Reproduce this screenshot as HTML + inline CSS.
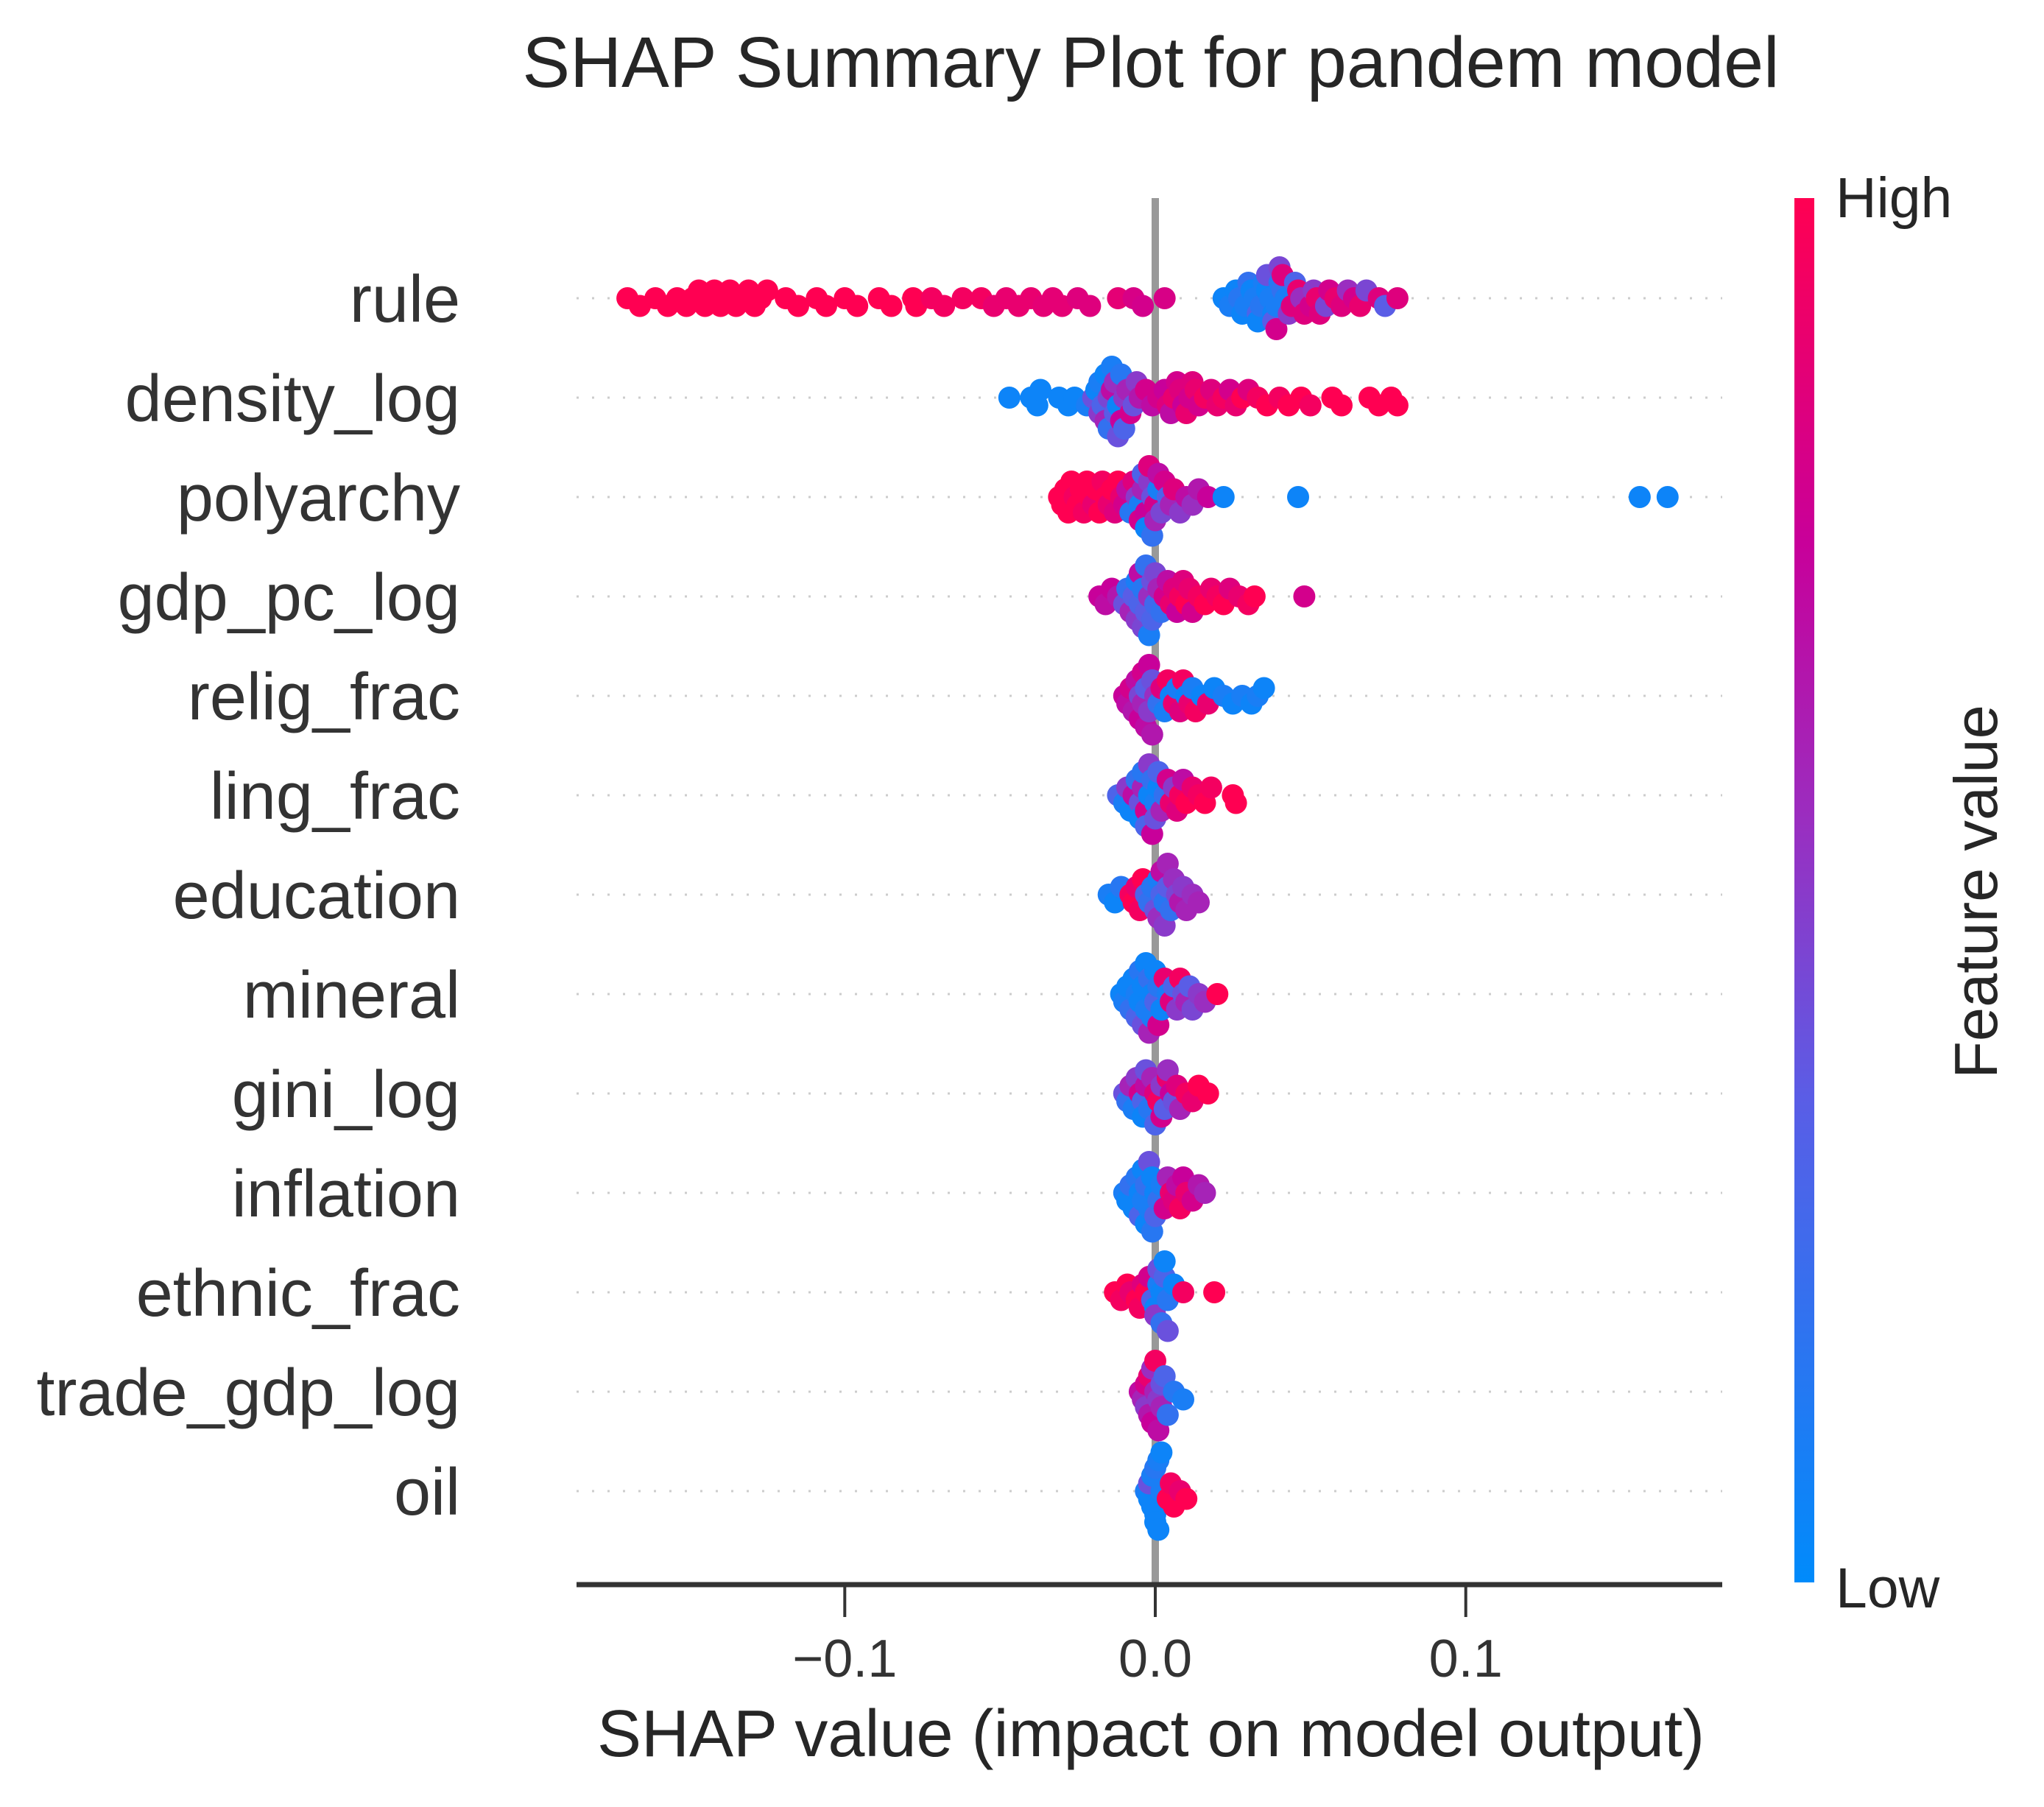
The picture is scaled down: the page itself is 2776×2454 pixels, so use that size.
<!DOCTYPE html>
<html><head><meta charset="utf-8"><style>
html,body{margin:0;padding:0;background:#fff;}
svg{display:block;font-family:"Liberation Sans",Arial,sans-serif;}
</style></head><body>
<svg id="chart" width="2776" height="2454" viewBox="0 0 2776 2454" xmlns="http://www.w3.org/2000/svg">
<defs>
<linearGradient id="cbgrad" x1="0" y1="1" x2="0" y2="0">
<stop offset="0" stop-color="#008bfb"/><stop offset="0.35" stop-color="#5a5de6"/><stop offset="0.55" stop-color="#9a2ec0"/><stop offset="0.75" stop-color="#c8009a"/><stop offset="1" stop-color="#ff0052"/>
</linearGradient>
</defs>
<text x="1563" y="118" font-size="97" text-anchor="middle" fill="#262626">SHAP Summary Plot for pandem model</text>
<g id="grid"></g>
<line x1="1569" y1="269" x2="1569" y2="2152" stroke="#999" stroke-width="10"/>
<g id="dots"></g>
<g id="labels"></g>
<line x1="783" y1="2152" x2="2339" y2="2152" stroke="#333" stroke-width="7"/>
<g id="ticks"></g>
<text x="1563" y="2385" font-size="90" text-anchor="middle" fill="#262626">SHAP value (impact on model output)</text>
<rect x="2437" y="269" width="27" height="1880" fill="url(#cbgrad)"/>
<text x="2493" y="295" font-size="77" fill="#262626">High</text>
<text x="2493" y="2183" font-size="77" fill="#262626">Low</text>
<text x="0" y="0" font-size="83" text-anchor="middle" fill="#262626" transform="translate(2712,1211) rotate(-90)">Feature value</text>
</svg>
<script>
const features = ["rule","density_log","polyarchy","gdp_pc_log","relig_frac","ling_frac","education","mineral","gini_log","inflation","ethnic_frac","trade_gdp_log","oil"];
const xTicks = [-0.1, 0.0, 0.1];
const xTickLabels = ["\u22120.1","0.0","0.1"];

const rule_v = [-0.170,-0.166,-0.161,-0.157,-0.154,-0.151,-0.149,-0.147,-0.145,-0.144,-0.142,-0.140,-0.138,-0.137,-0.135,-0.133,-0.131,-0.129,-0.127,-0.125,-0.119,-0.115,-0.109,-0.106,-0.100,-0.096,-0.089,-0.085,-0.078,-0.077,-0.072,-0.068,-0.062,-0.056,-0.052,-0.048,-0.044,-0.040,-0.036,-0.033,-0.030,-0.025,-0.021,-0.012,-0.007,-0.004,0.003,
0.022,0.024,0.026,0.027,0.028,0.029,0.030,0.031,0.032,0.033,0.033,0.034,0.035,0.036,0.036,0.037,0.038,0.038,0.039,0.039,0.040,0.040,0.041,0.041,0.042,0.043,0.044,0.045,0.046,0.047,0.048,0.050,0.051,0.052,0.053,0.055,0.056,0.058,0.060,0.062,0.064,0.066,0.068,0.072,0.074,0.078];
const rule_c = [1,1,1,1,1,1,1,1,1,1,1,1,1,1,1,1,1,1,1,1,1,1,1,1,1,1,1,1,1,1,.95,.95,.95,.95,.9,.9,.9,.9,.88,.88,.88,.85,.85,.88,.82,.8,.82,
.05,.1,.05,.15,.05,.1,.2,.05,.1,.3,.05,.15,.1,.05,.4,.1,.05,.35,.1,.8,.15,.45,.2,.85,.1,.5,.85,.3,.9,.55,.85,.8,.5,.9,.85,.45,.8,.9,.85,.55,.8,.9,.45,.85,.35,.85];

const density_v = [-0.047,-0.040,-0.038,-0.037,-0.031,-0.028,-0.026,-0.022,-0.020,-0.019,-0.018,-0.018,-0.017,-0.016,-0.016,-0.015,-0.015,-0.014,-0.014,-0.013,-0.013,-0.012,-0.012,-0.011,-0.011,-0.010,-0.010,-0.009,-0.008,-0.007,-0.006,-0.005,-0.003,-0.001,0.001,0.003,0.004,0.005,0.006,0.007,0.008,0.009,0.010,0.011,0.012,0.013,0.014,0.016,0.018,0.020,0.022,0.024,0.026,0.028,0.030,0.033,0.036,0.040,0.043,0.047,0.050,0.057,0.060,0.069,0.072,0.076,0.078];
const density_c = [.05,.05,.05,.05,.05,.05,.05,.1,.4,.05,.5,.1,.3,.6,.05,.45,.2,.7,.1,.35,.55,.05,.4,.75,.15,.5,.3,.6,.8,.4,.5,.65,.8,.7,.8,.75,.85,.7,.9,.8,.85,.75,.9,.8,.85,.9,.8,.95,.85,.9,.95,.8,.9,1,.85,.95,1,.95,1,1,.95,1,1,1,1,1,1];

const polyarchy_v = [-0.031,-0.030,-0.029,-0.028,-0.027,-0.026,-0.025,-0.024,-0.023,-0.022,-0.021,-0.020,-0.019,-0.018,-0.017,-0.016,-0.015,-0.014,-0.013,-0.012,-0.011,-0.010,-0.009,-0.008,-0.007,-0.006,-0.005,-0.005,-0.004,-0.004,-0.003,-0.003,-0.002,-0.002,-0.001,-0.001,0.000,0.000,0.001,0.001,0.002,0.003,0.004,0.005,0.006,0.008,0.010,0.012,0.014,0.017,0.022,0.046,0.156,0.165];
const polyarchy_c = [1,1,1,1,1,.95,1,1,.95,1,1,.9,1,1,.95,1,.9,1,.85,1,.9,.8,.7,.15,.85,.5,.1,.8,.6,.3,.75,.05,.5,.85,.4,.2,.8,.6,.1,.7,.45,.8,.3,.6,.85,.5,.7,.55,.65,.75,.05,.05,.05,.05];

const gdp_v = [-0.018,-0.016,-0.014,-0.012,-0.010,-0.009,-0.008,-0.007,-0.006,-0.006,-0.005,-0.005,-0.004,-0.004,-0.003,-0.003,-0.002,-0.002,-0.001,-0.001,0.000,0.000,0.001,0.002,0.003,0.004,0.005,0.006,0.007,0.008,0.009,0.010,0.011,0.012,0.014,0.016,0.018,0.020,0.022,0.024,0.027,0.030,0.032,0.048];
const gdp_c = [.75,.7,.75,.65,.4,.2,.6,.35,.1,.5,.3,.7,.15,.45,.35,.2,.55,.1,.4,.3,.25,.45,.6,.2,.8,.7,.9,.85,.75,.95,.85,1,.9,.8,.95,1,.9,.95,1,.85,.9,.95,1,.8];

const relig_v = [-0.010,-0.009,-0.008,-0.007,-0.006,-0.005,-0.005,-0.004,-0.004,-0.003,-0.003,-0.002,-0.002,-0.001,-0.001,0.000,0.001,0.002,0.003,0.004,0.005,0.006,0.007,0.008,0.009,0.010,0.011,0.012,0.013,0.015,0.017,0.019,0.022,0.025,0.028,0.031,0.033,0.035];
const relig_c = [.75,.7,.8,.65,.7,.45,.75,.6,.8,.35,.7,.5,.75,.4,.65,.55,.2,.85,.1,.95,.05,.9,.1,.85,.95,.05,.9,.1,.95,.05,.9,.05,.1,.05,.1,.05,.1,.05];

const ling_v = [-0.012,-0.010,-0.009,-0.008,-0.007,-0.006,-0.005,-0.005,-0.004,-0.004,-0.003,-0.003,-0.002,-0.002,-0.001,-0.001,0.000,0.000,0.001,0.001,0.002,0.003,0.004,0.005,0.006,0.007,0.008,0.009,0.010,0.012,0.014,0.016,0.018,0.025,0.026];
const ling_c = [.3,.1,.5,.05,.7,.2,.4,.05,.6,.15,.8,.3,.05,.5,.2,.75,.1,.4,.05,.3,.6,.2,.8,.9,.5,.85,.95,.7,1,.9,.95,1,.95,1,1];

const education_v = [-0.015,-0.013,-0.011,-0.008,-0.007,-0.006,-0.005,-0.004,-0.003,-0.002,-0.001,0.000,0.001,0.001,0.002,0.002,0.003,0.003,0.004,0.004,0.005,0.006,0.007,0.008,0.009,0.010,0.012,0.014];
const education_c = [.1,.05,.15,.95,1,.9,.95,1,.3,.2,.15,.4,.1,.55,.3,.7,.15,.5,.35,.6,.2,.55,.45,.65,.5,.6,.55,.6];

const mineral_v = [-0.011,-0.010,-0.009,-0.008,-0.007,-0.006,-0.006,-0.005,-0.005,-0.004,-0.004,-0.003,-0.003,-0.002,-0.002,-0.001,-0.001,0.000,0.000,0.001,0.001,0.002,0.003,0.004,0.005,0.006,0.007,0.008,0.009,0.010,0.011,0.012,0.014,0.016,0.020];
const mineral_c = [.05,.1,.05,.2,.05,.1,.3,.05,.15,.05,.4,.1,.05,.2,.6,.05,.1,.3,.05,.15,.8,.05,.9,.1,.85,.3,.5,.95,.4,.6,.35,.45,.5,.55,1];

const gini_v = [-0.010,-0.009,-0.008,-0.007,-0.006,-0.005,-0.004,-0.004,-0.003,-0.003,-0.002,-0.001,0.000,0.000,0.001,0.002,0.002,0.003,0.004,0.004,0.005,0.006,0.007,0.008,0.010,0.012,0.014,0.017];
const gini_c = [.4,.2,.6,.1,.5,.8,.3,.05,.7,.4,.15,.6,.85,.3,.95,.5,.8,.35,.9,.55,.75,.4,.85,.6,.95,.9,1,1];

const inflation_v = [-0.010,-0.009,-0.008,-0.007,-0.006,-0.005,-0.005,-0.004,-0.004,-0.003,-0.003,-0.002,-0.002,-0.001,-0.001,0.000,0.000,0.001,0.002,0.003,0.004,0.005,0.006,0.007,0.008,0.009,0.010,0.012,0.014,0.016];
const inflation_c = [.1,.05,.2,.05,.15,.05,.3,.1,.05,.2,.05,.1,.4,.05,.15,.05,.3,.2,.1,.8,.6,.9,.85,.7,.95,.75,.9,.8,.65,.6];

const ethnic_v = [-0.013,-0.011,-0.009,-0.008,-0.006,-0.005,-0.004,-0.003,-0.002,-0.001,0.000,0.000,0.001,0.001,0.002,0.002,0.003,0.003,0.004,0.004,0.006,0.009,0.019];
const ethnic_c = [1,.95,1,.9,1,.95,.85,1,.8,.3,.05,.5,.1,.4,.05,.2,.3,.05,.15,.4,.05,.95,1];

const trade_v = [-0.005,-0.004,-0.003,-0.003,-0.002,-0.002,-0.001,-0.001,0.000,0.000,0.001,0.001,0.002,0.002,0.003,0.004,0.006,0.009];
const trade_c = [.7,.6,.8,.5,.9,.65,.55,.75,.6,.95,.5,.7,.4,.6,.3,.2,.15,.1];

const oil_v = [-0.003,-0.002,-0.002,-0.001,-0.001,0.000,0.000,0.000,0.001,0.001,0.002,0.002,0.004,0.005,0.006,0.008,0.010];
const oil_c = [.1,.05,.4,.05,.1,.05,.15,.05,.1,.05,.1,.05,1,.95,1,.9,1];

const seriesV = [rule_v,density_v,polyarchy_v,gdp_v,relig_v,ling_v,education_v,mineral_v,gini_v,inflation_v,ethnic_v,trade_v,oil_v];
const seriesC = [rule_c,density_c,polyarchy_c,gdp_c,relig_c,ling_c,education_c,mineral_c,gini_c,inflation_c,ethnic_c,trade_c,oil_c];

const NS = "http://www.w3.org/2000/svg";
const X0 = 1569, XS = 4217, Y0 = 405, ROW = 135, R = 15;
function xScale(v){ return X0 + v*XS; }
function yRow(i){ return Y0 + i*ROW; }
const stops = [[0,[0,139,251]],[0.35,[90,93,230]],[0.55,[154,46,192]],[0.75,[200,0,154]],[1,[255,0,82]]];
function colorOf(t){
  for(let k=1;k<stops.length;k++){
    if(t<=stops[k][0]){
      const a=stops[k-1], b=stops[k], f=(t-a[0])/(b[0]-a[0]);
      const c=a[1].map((x,j)=>Math.round(x+(b[1][j]-x)*f));
      return `rgb(${c[0]},${c[1]},${c[2]})`;
    }
  }
  return "rgb(255,0,82)";
}
const grid = document.getElementById("grid");
const dots = document.getElementById("dots");
const labels = document.getElementById("labels");
const ticks = document.getElementById("ticks");

features.forEach((name,i)=>{
  const y = yRow(i);
  const gl = document.createElementNS(NS,"line");
  
  
  gl.setAttribute("x1",783); gl.setAttribute("x2",2339);
  gl.setAttribute("y1",y); gl.setAttribute("y2",y);
  gl.setAttribute("stroke","#ccc"); gl.setAttribute("stroke-width","3");
  gl.setAttribute("stroke-dasharray","3 18");
  grid.appendChild(gl);

  const t = document.createElementNS(NS,"text");
  
  
  t.setAttribute("x",625); t.setAttribute("y",y+32);
  t.setAttribute("text-anchor","end"); t.setAttribute("font-size","90");
  t.setAttribute("fill","#333");
  t.textContent = name;
  labels.appendChild(t);

  // collision-based beeswarm layout
  const vals = seriesV[i], cols = seriesC[i];
  const n = vals.length;
  const order = vals.map((v,k)=>k).sort((a,b)=>vals[a]-vals[b] || a-b);
  const step = 0.7*R, maxOff = 0.4*ROW;
  const placed = [];
  const offs = new Array(n).fill(0);
  order.forEach(k=>{
    const px = xScale(vals[k]);
    let chosen = 0;
    for(let j=0;j<40;j++){
      const off = Math.ceil(j/2)*((j%2)*2-1)*step;
      if(Math.abs(off)>maxOff){ continue; }
      const hit = placed.some(p=>Math.abs(p.x-px)<1.2*R && Math.abs(p.y-off)<step*0.99);
      if(!hit){ chosen = off; break; }
    }
    offs[k]=chosen;
    placed.push({x:px,y:chosen});
  });
  for(let k=0;k<n;k++){
    const c = document.createElementNS(NS,"circle");
    
    
    c.setAttribute("cx", xScale(vals[k]).toFixed(1));
    c.setAttribute("cy", (y + offs[k]).toFixed(1));
    c.setAttribute("r", R);
    c.setAttribute("fill", colorOf(cols[k]));
    dots.appendChild(c);
  }
});

xTicks.forEach((v,i)=>{
  const x = xScale(v);
  const l = document.createElementNS(NS,"line");
  
  
  l.setAttribute("x1",x); l.setAttribute("x2",x);
  l.setAttribute("y1",2152); l.setAttribute("y2",2196);
  l.setAttribute("stroke","#333"); l.setAttribute("stroke-width","4");
  ticks.appendChild(l);
  const t = document.createElementNS(NS,"text");
  
  
  t.setAttribute("x",x); t.setAttribute("y",2277);
  t.setAttribute("text-anchor","middle"); t.setAttribute("font-size","72");
  t.setAttribute("fill","#333");
  t.textContent = xTickLabels[i];
  ticks.appendChild(t);
});
</script>
</body></html>
